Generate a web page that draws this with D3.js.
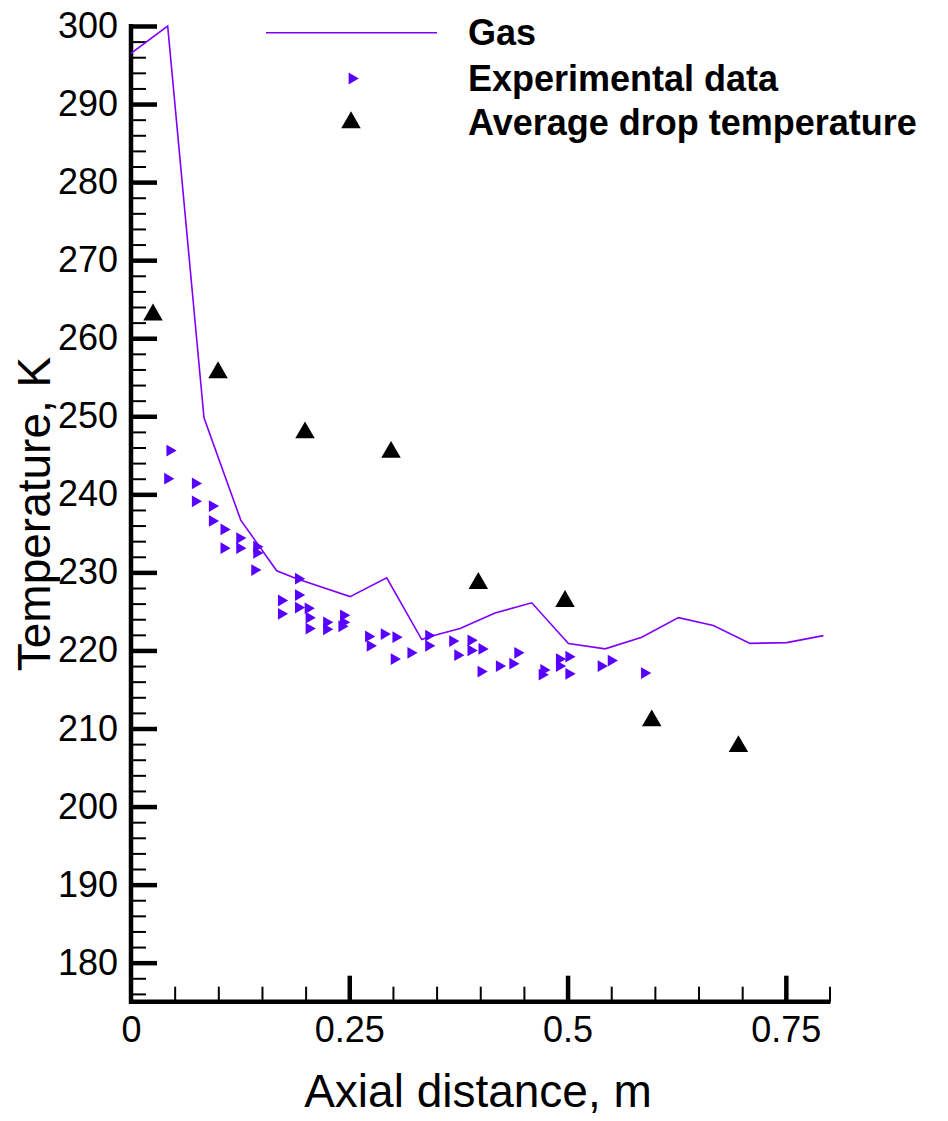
<!DOCTYPE html>
<html>
<head>
<meta charset="utf-8">
<script src="https://cdn.jsdelivr.net/npm/d3@7"></script>
<style>
  html, body { margin: 0; padding: 0; background: #fff; }
  svg { display: block; }
  text { font-family: "Liberation Sans", Arial, Helvetica, sans-serif; fill: #000; }
</style>
</head>
<body>
<svg id="chart" width="948" height="1121"></svg>
<script>
// ---- Data ----
const gasX = [0, 0.042, 0.0836, 0.1257, 0.1669, 0.1898, 0.2509, 0.2929, 0.333, 0.3425, 0.3769, 0.417, 0.459, 0.501, 0.543, 0.585, 0.627, 0.667, 0.709, 0.751, 0.793];
const gasT = [296.5, 300, 249.8, 236.7, 230.2, 229.2, 226.9, 229.3, 221.4, 221.8, 222.8, 224.8, 226.1, 220.9, 220.2, 221.7, 224.2, 223.2, 220.9, 221.0, 221.9];

const expX = [0.0445, 0.0419, 0.0736, 0.0736, 0.0931, 0.0931, 0.1064, 0.1064, 0.1244, 0.1244, 0.1439, 0.1439, 0.1416,
  0.1917, 0.1917, 0.1917, 0.2028, 0.2039, 0.2039, 0.1722, 0.1722, 0.2239, 0.2239, 0.2433, 0.2433, 0.2414,
  0.272, 0.2739, 0.2899, 0.3033, 0.3014, 0.3205, 0.3408, 0.3408, 0.3683, 0.3741, 0.3893, 0.3893, 0.4019, 0.4008,
  0.4218, 0.4372, 0.4429, 0.4727, 0.4708, 0.4906, 0.4906, 0.5014, 0.5014, 0.5384, 0.5499, 0.5881];
const expT = [245.6, 242.0, 241.4, 239.1, 238.5, 236.6, 235.5, 233.1, 234.4, 233.1, 233.3, 232.5, 230.3,
  229.2, 227.1, 225.5, 225.4, 224.2, 222.8, 226.4, 224.7, 223.6, 222.7, 224.5, 223.6, 223.1,
  221.8, 220.6, 222.1, 221.7, 218.9, 219.7, 221.9, 220.6, 221.2, 219.4, 221.3, 220.0, 220.2, 217.3,
  218.0, 218.3, 219.7, 217.5, 216.9, 218.9, 218.0, 219.2, 217.0, 218.0, 218.7, 217.1];

const dropX = [0.0252, 0.0997, 0.1993, 0.2978, 0.3978, 0.4971, 0.5964, 0.6957];
const dropT = [263.0, 255.6, 247.9, 245.4, 228.6, 226.3, 211.0, 207.7];

const xMajorTicks = [0, 0.25, 0.5, 0.75];
const xTickLabels = ["0", "0.25", "0.5", "0.75"];
const yMajorTicks = [180, 190, 200, 210, 220, 230, 240, 250, 260, 270, 280, 290, 300];

const seriesNames = ["Gas", "Experimental data", "Average drop temperature"];
const xTitle = "Axial distance, m";
const yTitle = "Temperature, K";

// ---- Drawing ----
const gasColor = "#7f00ff";
const expColor = "#5800ff";
const svg = d3.select("#chart");

const x = d3.scaleLinear().domain([0, 0.8]).range([131, 829.5]);
const y = d3.scaleLinear().domain([175, 300]).range([1001.7, 26]);

const xMinor = d3.range(0, 0.8001, 0.05).filter(v => Math.abs(v / 0.25 - Math.round(v / 0.25)) > 1e-6);
const yMinor = d3.range(176, 300.1, 2).filter(v => v % 10 !== 0);

// minor ticks
const gyMinor = svg.append("g").attr("transform", `translate(${x(0)},0)`)
  .call(d3.axisLeft(y).tickValues(yMinor).tickSizeInner(-15).tickSizeOuter(0).tickFormat(""));
gyMinor.select(".domain").remove();
gyMinor.selectAll(".tick line").attr("stroke", "#000").attr("stroke-width", 2);

const gxMinor = svg.append("g").attr("transform", `translate(0,${y(175)})`)
  .call(d3.axisBottom(x).tickValues(xMinor).tickSizeInner(-15).tickSizeOuter(0).tickFormat(""));
gxMinor.select(".domain").remove();
gxMinor.selectAll(".tick line").attr("stroke", "#000").attr("stroke-width", 2);

// major axes
const gy = svg.append("g").attr("transform", `translate(${x(0)},0)`)
  .call(d3.axisLeft(y).tickValues(yMajorTicks).tickSizeInner(-26).tickSizeOuter(0).tickPadding(13).tickFormat(d3.format("d")));
gy.select(".domain").attr("stroke", "#000").attr("stroke-width", 4.5)
  .attr("d", `M0,${y(175) + 2}V${y(300) - 2}`);
gy.selectAll(".tick line").attr("stroke", "#000").attr("stroke-width", 4.5);
gy.selectAll(".tick text").attr("font-size", 36).attr("font-family", "Liberation Sans, Arial, sans-serif").attr("fill", "#000");

const gx = svg.append("g").attr("transform", `translate(0,${y(175)})`)
  .call(d3.axisBottom(x).tickValues(xMajorTicks).tickSizeInner(-26).tickSizeOuter(0).tickPadding(15)
    .tickFormat((d, i) => xTickLabels[i]));
gx.select(".domain").attr("stroke", "#000").attr("stroke-width", 4.5)
  .attr("d", `M${x(0) - 2},0H${x(0.8) + 1}`);
gx.selectAll(".tick line").attr("stroke", "#000").attr("stroke-width", 4.5);
gx.selectAll(".tick text").attr("font-size", 36).attr("font-family", "Liberation Sans, Arial, sans-serif").attr("fill", "#000");
gx.selectAll(".tick").filter(d => d === 0).select("line").remove();

// titles
svg.append("text").attr("x", 478).attr("y", 1107).attr("text-anchor", "middle")
  .attr("font-size", 46).text(xTitle);
svg.append("text").attr("transform", `translate(50,514) rotate(-90)`).attr("text-anchor", "middle")
  .attr("font-size", 46).text(yTitle);

// gas line
const line = d3.line().x((d, i) => x(gasX[i])).y((d, i) => y(gasT[i]));
svg.append("path").datum(gasX).attr("d", line).attr("fill", "none")
  .attr("stroke", gasColor).attr("stroke-width", 1.6);

// experimental markers (right-pointing triangles)
const expSym = d3.symbol().type(d3.symbolTriangle).size(60);
svg.append("g").selectAll("path").data(expX).join("path")
  .attr("d", expSym)
  .attr("transform", (d, i) => `translate(${x(expX[i])},${y(expT[i])}) rotate(90)`)
  .attr("fill", expColor);

// drop markers (up triangles)
const dropSym = d3.symbol().type(d3.symbolTriangle).size(165);
svg.append("g").selectAll("path").data(dropX).join("path")
  .attr("d", dropSym)
  .attr("transform", (d, i) => `translate(${x(dropX[i])},${y(dropT[i])})`)
  .attr("fill", "#000");

// legend
const lg = svg.append("g");
const rowsY = [32.7, 78.5, 122.5];
lg.append("line").attr("x1", 266).attr("x2", 437).attr("y1", rowsY[0]).attr("y2", rowsY[0])
  .attr("stroke", gasColor).attr("stroke-width", 1.6);
lg.append("path").attr("d", expSym).attr("transform", `translate(352,${rowsY[1]}) rotate(90)`).attr("fill", expColor);
lg.append("path").attr("d", dropSym).attr("transform", `translate(351,${rowsY[2]})`).attr("fill", "#000");
lg.selectAll("text.lab").data(seriesNames).join("text").attr("class", "lab")
  .attr("x", 468).attr("y", (d, i) => rowsY[i]).attr("dy", "0.35em")
  .attr("font-size", 36).attr("font-weight", "bold").text(d => d);
</script>
</body>
</html>
